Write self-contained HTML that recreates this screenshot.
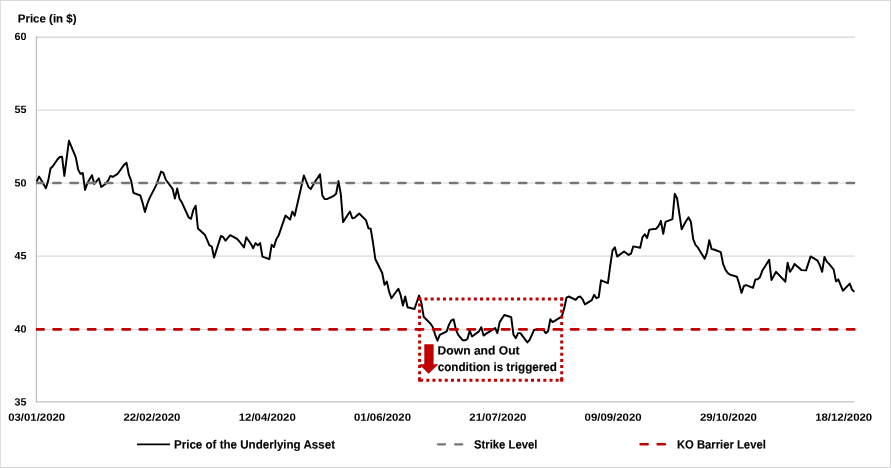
<!DOCTYPE html>
<html lang="en">
<head>
<meta charset="utf-8">
<title>Down and Out barrier option - price of the underlying asset</title>
<style>
html,body{margin:0;padding:0;background:#fff;}
body{width:891px;height:468px;overflow:hidden;}
svg{display:block;}
text{font-family:"Liberation Sans",sans-serif;font-weight:bold;fill:#000;}
</style>
</head>
<body>
<svg width="891" height="468" viewBox="0 0 891 468">
<rect x="0" y="0" width="891" height="468" fill="#fff"/>
<path d="M0,0 H891 V468 H0 Z M0.8,0.9 V466.9 H889.9 V0.9 Z" fill="#d6d6d6" fill-rule="evenodd"/>

<defs><clipPath id="plotclip"><rect x="36" y="30" width="820" height="380"/></clipPath></defs>
<g stroke="#d9d9d9" fill="none">
<line x1="36.5" y1="37.2" x2="854.6" y2="37.2" stroke="#d9d9d9" stroke-width="1.4"/>
<line x1="36.5" y1="110.2" x2="854.6" y2="110.2" stroke="#d9d9d9" stroke-width="1.3"/>
<line x1="36.5" y1="183.05" x2="854.6" y2="183.05" stroke="#e0e0e0" stroke-width="1.3"/>
<line x1="36.5" y1="256.13" x2="854.6" y2="256.13" stroke="#d9d9d9" stroke-width="1.3"/>
<line x1="36.5" y1="329.5" x2="854.6" y2="329.5" stroke="#dcdcdc" stroke-width="1.05"/>
</g>
<g stroke="#bfbfbf" stroke-width="1.3" fill="none">
<path d="M36.4,36.2 V401.9 H854.5" stroke-linejoin="round"/>
</g>
<path d="M36.70,181.5 L39.00,176.6 L41.31,180.3 L45.91,188.2 L48.22,180.6 L50.52,168.5 L52.82,166.3 L57.43,159.5 L59.73,157.0 L62.04,156.7 L64.34,175.9 L66.64,158.7 L68.95,140.6 L71.25,146.4 L73.55,151.9 L75.86,157.6 L78.16,169.6 L80.46,173.9 L82.77,173.0 L85.07,189.9 L87.37,183.1 L91.98,175.2 L94.28,184.0 L98.89,178.4 L101.20,187.0 L105.80,183.7 L108.11,180.6 L110.41,175.9 L112.71,176.9 L117.32,174.2 L124.23,164.6 L126.53,162.9 L128.84,174.7 L131.14,180.6 L133.44,192.9 L140.35,195.5 L142.66,203.1 L144.96,212.1 L147.26,204.0 L149.57,198.1 L156.48,184.6 L161.08,171.6 L163.39,172.8 L165.69,179.5 L172.60,188.8 L174.90,198.6 L177.21,188.5 L179.51,198.9 L181.81,202.3 L188.72,217.5 L191.03,218.8 L193.33,209.9 L195.63,205.7 L197.94,228.5 L204.85,234.7 L209.45,245.3 L211.76,246.5 L214.06,257.5 L220.97,235.9 L223.28,237.2 L225.58,240.6 L230.19,235.2 L237.10,238.9 L239.40,241.5 L244.01,247.4 L246.31,237.2 L250.92,244.0 L253.22,248.2 L255.52,243.1 L257.83,245.3 L260.13,243.1 L262.43,256.6 L269.34,259.2 L271.65,244.8 L273.95,247.0 L276.25,239.3 L278.56,235.6 L285.47,215.6 L290.07,219.5 L292.38,211.6 L294.68,215.7 L303.89,175.5 L308.50,187.0 L310.80,189.0 L315.41,181.1 L320.02,174.3 L322.32,195.4 L324.62,199.1 L326.93,199.1 L333.84,195.8 L336.14,193.7 L338.45,181.1 L340.75,193.7 L343.05,222.1 L349.96,211.5 L352.27,218.2 L354.57,217.7 L359.18,213.5 L366.09,220.4 L368.39,228.3 L370.69,228.8 L373.00,242.7 L375.30,259.0 L382.21,273.0 L384.51,284.8 L386.82,281.5 L389.12,291.6 L391.42,298.3 L398.33,288.7 L400.64,295.0 L402.94,305.6 L405.24,296.5 L407.55,307.3 L414.46,309.0 L419.06,295.5 L421.37,302.7 L423.67,316.7 L430.58,323.8 L432.88,327.2 L435.19,334.8 L437.49,340.7 L439.79,334.8 L446.71,331.4 L449.01,324.6 L451.31,320.4 L453.62,319.3 L455.92,329.7 L458.22,334.8 L462.83,340.3 L465.13,340.3 L467.44,339.0 L469.74,330.6 L472.04,336.5 L478.95,331.4 L481.26,327.2 L483.56,335.6 L485.86,333.9 L492.77,329.7 L495.08,328.0 L497.38,333.1 L499.68,322.1 L504.29,315.0 L511.20,317.1 L513.50,334.8 L515.81,338.1 L518.11,333.1 L520.41,333.1 L527.32,342.4 L529.63,339.8 L534.23,329.7 L543.45,329.7 L545.75,333.1 L548.05,331.4 L550.36,319.3 L552.66,322.1 L559.57,317.9 L561.88,316.2 L564.18,308.6 L566.48,297.7 L568.79,296.5 L575.70,299.8 L578.00,297.1 L580.30,296.5 L582.61,299.3 L584.91,304.4 L591.82,300.2 L594.12,294.8 L596.43,298.2 L598.73,297.1 L601.03,280.3 L607.94,283.2 L610.25,265.5 L612.55,250.3 L614.85,247.3 L617.16,256.6 L624.07,251.5 L628.67,254.9 L630.98,253.7 L633.28,246.4 L640.19,247.8 L642.49,237.1 L644.80,234.3 L647.10,238.0 L649.40,229.6 L656.31,228.7 L658.62,225.8 L660.92,220.8 L663.22,233.9 L665.53,221.8 L672.44,219.1 L674.74,193.8 L677.05,198.2 L681.65,229.2 L686.26,220.8 L688.56,217.4 L690.87,221.8 L693.17,239.0 L695.47,244.9 L697.78,247.4 L704.69,258.7 L706.99,252.5 L709.29,240.3 L711.60,249.1 L713.90,249.5 L720.81,252.2 L723.11,264.0 L725.42,269.6 L727.72,273.0 L730.02,274.6 L736.93,276.8 L739.24,283.9 L741.54,292.9 L743.84,286.0 L746.15,285.1 L753.06,287.8 L755.36,279.4 L757.66,279.2 L759.97,277.2 L762.27,270.8 L769.18,259.8 L771.48,280.0 L776.09,271.8 L785.31,281.7 L787.61,262.8 L789.91,271.8 L792.22,268.7 L794.52,264.0 L801.43,270.1 L806.04,270.4 L810.64,256.4 L817.55,260.6 L819.86,265.4 L822.16,271.8 L824.46,256.9 L826.77,261.6 L829.07,263.9 L833.68,269.6 L835.98,281.4 L838.28,279.4 L842.89,290.7 L849.80,283.6 L852.10,289.8 L854.41,291.9" fill="none" stroke="#000" stroke-width="1.95" stroke-linejoin="round" stroke-linecap="butt"/>
<line clip-path="url(#plotclip)" x1="36.05" y1="183.05" x2="854.5" y2="183.05" stroke="#767676" stroke-width="2.5" stroke-linecap="round" stroke-dasharray="7.25 10"/>
<line clip-path="url(#plotclip)" x1="36.25" y1="329.4" x2="854.5" y2="329.4" stroke="#c00000" stroke-width="2.6" stroke-linecap="round" stroke-dasharray="7.4 9.85"/>
<g stroke="#c00000" stroke-width="3" fill="none">
<line x1="418.3" y1="298.9" x2="563.2" y2="298.9" stroke-dasharray="3 3.1735"/>
<line x1="419.6" y1="297.4" x2="419.6" y2="381.7" stroke-dasharray="3 3.15"/>
<line x1="561.7" y1="297.4" x2="561.7" y2="381.7" stroke-dasharray="3 3.15"/>
<line x1="558.65" y1="380.2" x2="418.1" y2="380.2" stroke-dasharray="3 3.16"/>
</g>
<rect x="418.1" y="378.7" width="3" height="3" fill="#c00000"/>
<rect x="560.2" y="378.7" width="3" height="3" fill="#c00000"/>
<path d="M424.3,344.2 H433.6 V364.3 H438.4 L428.6,373.8 L419.2,364.3 H424.3 Z" fill="#c00000"/>
<text transform="translate(437.6 354.4) rotate(0.03)" font-size="12" textLength="82" lengthAdjust="spacingAndGlyphs" stroke="#000" stroke-width="0.15" stroke-linejoin="round">Down and Out</text>
<text transform="translate(437.7 371.0) rotate(0.03)" font-size="12" textLength="119.2" lengthAdjust="spacingAndGlyphs" stroke="#000" stroke-width="0.15" stroke-linejoin="round">condition is triggered</text>
<text transform="translate(17.8 22.4) rotate(0.03)" font-size="11.7" textLength="58.7" lengthAdjust="spacingAndGlyphs" stroke="#000" stroke-width="0.12" stroke-linejoin="round">Price (in $)</text>
<text transform="translate(14.5 39.95) rotate(0.03)" font-size="10.5" textLength="12" lengthAdjust="spacingAndGlyphs">60</text>
<text transform="translate(14.5 113.1) rotate(0.03)" font-size="10.5" textLength="12" lengthAdjust="spacingAndGlyphs">55</text>
<text transform="translate(14.5 186.5) rotate(0.03)" font-size="10.5" textLength="12" lengthAdjust="spacingAndGlyphs">50</text>
<text transform="translate(14.5 259.3) rotate(0.03)" font-size="10.5" textLength="12" lengthAdjust="spacingAndGlyphs">45</text>
<text transform="translate(14.5 332.4) rotate(0.03)" font-size="10.5" textLength="12" lengthAdjust="spacingAndGlyphs">40</text>
<text transform="translate(14.5 405.6) rotate(0.03)" font-size="10.5" textLength="12" lengthAdjust="spacingAndGlyphs">35</text>
<text transform="translate(8.15 420.8) rotate(0.03)" font-size="10.5" textLength="57.0" lengthAdjust="spacingAndGlyphs">03/01/2020</text>
<text transform="translate(123.44 420.8) rotate(0.03)" font-size="10.5" textLength="57.0" lengthAdjust="spacingAndGlyphs">22/02/2020</text>
<text transform="translate(238.73 420.8) rotate(0.03)" font-size="10.5" textLength="57.0" lengthAdjust="spacingAndGlyphs">12/04/2020</text>
<text transform="translate(354.02 420.8) rotate(0.03)" font-size="10.5" textLength="57.0" lengthAdjust="spacingAndGlyphs">01/06/2020</text>
<text transform="translate(469.31 420.8) rotate(0.03)" font-size="10.5" textLength="57.0" lengthAdjust="spacingAndGlyphs">21/07/2020</text>
<text transform="translate(584.6 420.8) rotate(0.03)" font-size="10.5" textLength="57.0" lengthAdjust="spacingAndGlyphs">09/09/2020</text>
<text transform="translate(699.89 420.8) rotate(0.03)" font-size="10.5" textLength="57.0" lengthAdjust="spacingAndGlyphs">29/10/2020</text>
<text transform="translate(815.18 420.8) rotate(0.03)" font-size="10.5" textLength="57.0" lengthAdjust="spacingAndGlyphs">18/12/2020</text>
<line x1="137" y1="444.4" x2="170" y2="444.4" stroke="#000" stroke-width="1.9"/>
<text transform="translate(174.0 448.4) rotate(0.03)" font-size="12" textLength="161" lengthAdjust="spacingAndGlyphs" stroke="#000" stroke-width="0.12" stroke-linejoin="round">Price of the Underlying Asset</text>
<line x1="437.9" y1="444.3" x2="463.6" y2="444.3" stroke="#767676" stroke-width="2.2" stroke-linecap="round" stroke-dasharray="7.2 9.95"/>
<text transform="translate(474 448.4) rotate(0.03)" font-size="12" textLength="63.4" lengthAdjust="spacingAndGlyphs" stroke="#000" stroke-width="0.12" stroke-linejoin="round">Strike Level</text>
<line x1="640.5" y1="444.3" x2="666.4" y2="444.3" stroke="#c00000" stroke-width="2.5" stroke-linecap="round" stroke-dasharray="7.2 9.95"/>
<text transform="translate(676.9 448.4) rotate(0.03)" font-size="12" textLength="88.9" lengthAdjust="spacingAndGlyphs" stroke="#000" stroke-width="0.12" stroke-linejoin="round">KO Barrier Level</text>
</svg>
</body>
</html>
